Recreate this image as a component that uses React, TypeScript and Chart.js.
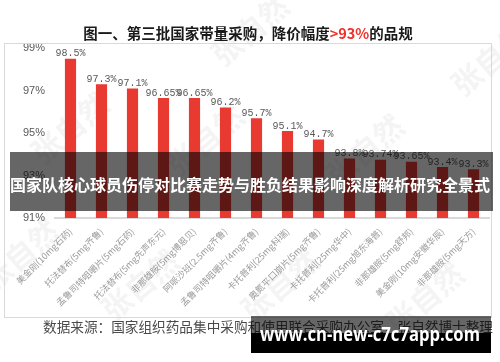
import React, { useEffect, useRef } from 'react';
import { Chart, registerables } from 'chart.js';
Chart.register(...registerables);

const categories = [
  '美金刚(10mg石药)',
  '托法替布(5mg齐鲁)',
  '孟鲁司特咀嚼片(5mg石药)',
  '托法替布(5mg先声东元)',
  '非那雄胺(5mg博恩贝)',
  '阿哌沙班(2.5mg齐鲁)',
  '孟鲁司特咀嚼片(4mg齐鲁)',
  '卡托普利(25mg科瑞)',
  '奥氮平口崩片(5mg齐鲁)',
  '卡托普利(25mg华中)',
  '卡托普利(25mg旭东海普)',
  '非那雄胺(5mg舒邦)',
  '美金刚(10mg安徽华辰)',
  '非那雄胺(5mg天方)',
];
const values = [98.5, 97.3, 97.1, 96.65, 96.65, 96.2, 95.7, 95.1, 94.7, 93.8, 93.74, 93.65, 93.4, 93.3];
const valueLabels = ['98.5%', '97.3%', '97.1%', '96.65%', '96.65%', '96.2%', '95.7%', '95.1%', '94.7%', '93.8%', '93.74%', '93.65%', '93.4%', '93.3%'];
const yMin = 91;
const yMax = 99;
const yStep = 2;
const titleParts = [
  { text: '图一、第三批国家带量采购，降价幅度', red: false },
  { text: '>93%', red: true },
  { text: '的品规', red: false },
];
const sourceText = '数据来源：国家组织药品集中采购和使用联合采购办公室，张自然博士整理';
const bannerText = '国家队核心球员伤停对比赛走势与胜负结果影响深度解析研究全景式';
const siteText = 'www.cn-new-c7c7app.com';
const watermarkText = '张自然';

export default function App() {
  const ref = useRef<HTMLCanvasElement>(null);
  useEffect(() => {
    const cjk = '"Noto Sans CJK SC", sans-serif';
    const plugin = {
      id: 'decor',
      beforeDatasetsDraw(chart: any) {
        const ctx = chart.ctx;
        ctx.save();
        ctx.fillStyle = 'rgba(150,150,150,0.1)';
        ctx.font = `bold 30px ${cjk}`;
        ctx.textAlign = 'center';
        ctx.textBaseline = 'middle';
        const spots = [[70, 128], [205, 140], [365, 150], [20, 255], [140, 285], [280, 285], [425, 298], [490, 60], [250, 30]];
        for (const [x, y] of spots) {
          ctx.save();
          ctx.translate(x, y);
          ctx.rotate(-0.7);
          ctx.fillText(watermarkText, 0, 0);
          ctx.restore();
        }
        ctx.restore();
      },
      afterDatasetsDraw(chart: any) {
        const ctx = chart.ctx;
        const meta = chart.getDatasetMeta(0);
        ctx.save();
        ctx.fillStyle = '#595959';
        ctx.font = '10px "Liberation Mono", monospace';
        ctx.textAlign = 'center';
        ctx.textBaseline = 'bottom';
        meta.data.forEach((bar: any, i: number) => {
          ctx.fillText(valueLabels[i], bar.x, bar.y);
        });
        ctx.restore();
      },
      afterDraw(chart: any) {
        const ctx = chart.ctx;
        ctx.save();
        ctx.strokeStyle = '#d9d9d9';
        ctx.lineWidth = 1;
        ctx.strokeRect(4.5, 43.5, 487, 274);
        ctx.font = `bold 14.5px ${cjk}`;
        ctx.textBaseline = 'middle';
        ctx.textAlign = 'left';
        let total = 0;
        for (const p of titleParts) total += ctx.measureText(p.text).width;
        let x = 248 - total / 2;
        for (const p of titleParts) {
          ctx.fillStyle = p.red ? '#F0302A' : '#1a1a1a';
          ctx.fillText(p.text, x, 33);
          x += ctx.measureText(p.text).width;
        }
        ctx.font = `13.5px ${cjk}`;
        ctx.fillStyle = '#4a4a4a';
        const sw = ctx.measureText(sourceText).width;
        ctx.save();
        ctx.translate(43, 327);
        ctx.scale(450 / sw, 1);
        ctx.fillText(sourceText, 0, 0);
        ctx.restore();
        ctx.fillStyle = 'rgba(0,0,0,0.6)';
        ctx.fillRect(10, 152, 483, 59);
        ctx.font = `bold 16px ${cjk}`;
        ctx.fillStyle = '#ffffff';
        ctx.textAlign = 'center';
        ctx.fillText(bannerText, 250, 185);
        ctx.fillStyle = 'rgba(0,0,0,0.6)';
        ctx.fillRect(251, 316, 240, 17);
        ctx.fillStyle = '#000000';
        ctx.fillRect(251, 333, 240, 20);
        ctx.font = 'bold 20px "Open Sans", "DejaVu Sans", sans-serif';
        ctx.fillStyle = '#ffffff';
        const ww = ctx.measureText(siteText).width;
        ctx.save();
        ctx.translate(370, 335);
        ctx.scale(220 / ww, 1);
        ctx.textAlign = 'center';
        ctx.fillText(siteText, 0, 0);
        ctx.restore();
        ctx.restore();
      },
    };
    const chart = new Chart(ref.current!, {
      type: 'bar',
      data: {
        labels: categories,
        datasets: [
          {
            data: values,
            backgroundColor: '#E93A32',
            barPercentage: 0.36,
            categoryPercentage: 1,
          },
        ],
      },
      options: {
        responsive: false,
        animation: false,
        layout: { padding: { left: 0, top: 48, right: 11, bottom: 0 } },
        plugins: { legend: { display: false }, tooltip: { enabled: false }, title: { display: false } },
        scales: {
          x: {
            grid: { display: false, drawTicks: false },
            border: { display: true, color: '#d9d9d9', width: 2 },
            ticks: {
              autoSkip: false,
              minRotation: 45,
              maxRotation: 45,
              padding: 8,
              font: { size: 9, family: 'Noto Sans CJK SC' },
              color: '#9a9a9a',
            },
            afterFit: (s: any) => {
              s.height = 144;
            },
          },
          y: {
            min: yMin,
            max: yMax,
            ticks: {
              stepSize: yStep,
              callback: (v: any) => v + '%',
              padding: 10,
              font: { size: 11, family: 'Liberation Sans' },
              color: '#595959',
            },
            grid: { display: false, drawTicks: false },
            border: { display: false },
            afterFit: (s: any) => {
              s.width = 55;
            },
          },
        },
      },
      plugins: [plugin],
    });
    return () => chart.destroy();
  }, []);
  return (
    <div style={{ position: 'absolute', left: 0, top: 0, width: 500, height: 362, background: '#fff' }}>
      <canvas ref={ref} width={500} height={362} style={{ display: 'block' }} />
    </div>
  );
}
